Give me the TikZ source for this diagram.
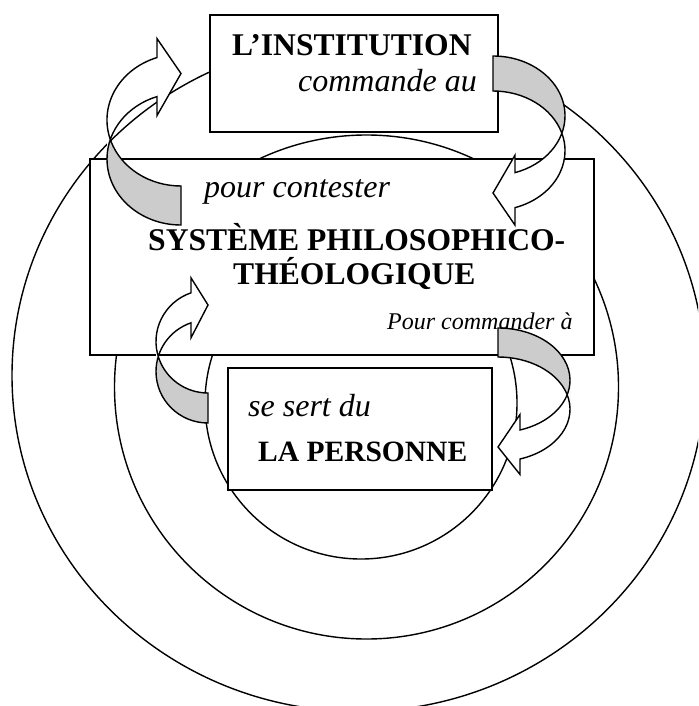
\documentclass[tikz,border=0pt]{standalone}
\usepackage{fontspec}
\setmainfont{Liberation Serif}
\tikzset{
  ln/.style={line width=1.4pt, line join=miter},
  ring/.style={draw, line width=1.4pt},
  boxst/.style={draw, line width=1.4pt, fill=white},
  backfill/.style={fill=black!20},
  bodyfill/.style={fill=white},
  bt/.style={font=\fontsize{31.6}{37}\selectfont\bfseries, inner sep=0pt},
  btp/.style={font=\fontsize{29.5}{35}\selectfont\bfseries, inner sep=0pt},
  it/.style={font=\fontsize{32}{38}\selectfont\itshape, inner sep=0pt},
  its/.style={font=\fontsize{24}{29}\selectfont\itshape, inner sep=0pt}
}
% curved block arrow: #1 placement, #2 width, #3 height, #4 band thickness, #5 head width, #6 head length
\newcommand{\qqcurvarr}[6]{%
\begin{scope}[#1]
\pgfmathsetmacro\qqw{#2}
\pgfmathsetmacro\qqhr{#3/2-(#4+#5)/4}
\pgfmathsetmacro\qqth{#4}
\pgfmathsetmacro\qqang{180-acos(#6/#2)}
\pgfmathsetmacro\qqdy{\qqhr*sin(\qqang)}
\pgfmathsetmacro\qqxa{#2-#6}
\pgfmathsetmacro\qqyv{\qqhr+\qqdy}
\pgfmathsetmacro\qqyw{\qqhr+\qqth+\qqdy}
\pgfmathsetmacro\qqdh{(#5-#4)/2}
\pgfmathsetmacro\qqyf{\qqyv-\qqdh}
\pgfmathsetmacro\qqye{\qqyw+\qqdh}
\pgfmathsetmacro\qqys{#3-#5/2}
\fill[backfill] (\qqw,\qqth) arc[start angle=270,end angle=180,x radius=\qqw,y radius=\qqhr]
  -- (0,\qqhr) arc[start angle=180,end angle=270,x radius=\qqw,y radius=\qqhr] -- cycle;
\fill[bodyfill] (0,\qqhr) arc[start angle=180,end angle=\qqang,x radius=\qqw,y radius=\qqhr]
  -- (\qqxa,\qqyf) -- (\qqw,\qqys) -- (\qqxa,\qqye) -- (\qqxa,\qqyw)
  arc[start angle=\qqang,end angle=180,x radius=\qqw,y radius=\qqhr] -- cycle;
\draw[ln] (\qqw,0) arc[start angle=270,end angle=\qqang,x radius=\qqw,y radius=\qqhr]
  -- (\qqxa,\qqyf) -- (\qqw,\qqys) -- (\qqxa,\qqye) -- (\qqxa,\qqyw)
  arc[start angle=\qqang,end angle=270,x radius=\qqw,y radius=\qqhr] -- cycle;
\end{scope}}
\begin{document}
\begin{tikzpicture}[x=1pt,y=-1pt]
\useasboundingbox (0,0) rectangle (698,706);
\fill[white] (0,0) rectangle (698,706);
\clip (0,0) rectangle (698,706);
% rings
\draw[ring] (358.5,375.5) ellipse [x radius=346.5, y radius=336];
\draw[ring, fill=white] (366.5,387) circle [radius=252];
\draw[ring, fill=white] (361,403) circle [radius=156];
% boxes
\draw[boxst] (210,15) rectangle (498,132);
\draw[boxst] (90,159) rectangle (594,355);
\draw[boxst] (228,368) rectangle (492,490);
% texts
\node[bt, anchor=base west] (tinst) at (232,56) {L’INSTITUTION};
\node[it, anchor=base east] (tcmd) at (477,92) {commande au};
\node[it, anchor=base west] (tpour) at (204,197) {pour contester};
\node[bt, anchor=base west] (tsys) at (148,250) {SYSTÈME PHILOSOPHICO-};
\node[bt, anchor=base west] (ttheo) at (233,284) {THÉOLOGIQUE};
\node[its, anchor=base west] (tcmdr) at (387,329) {Pour commander à};
\node[it, anchor=base west] (tsert) at (248,416) {se sert du};
\node[btp, anchor=base west] (tpers) at (258,461) {LA PERSONNE};
% curved arrows
\qqcurvarr{shift={(107,225)},yscale=-1}{74}{190}{39}{77}{24}
\qqcurvarr{shift={(565,56)},xscale=-1}{72}{172}{35}{70}{22}
\qqcurvarr{shift={(156,423)},yscale=-1}{52}{148}{30}{60}{17}
\qqcurvarr{shift={(570,328)},xscale=-1}{72}{149}{29}{60}{22}
\end{tikzpicture}
\end{document}
